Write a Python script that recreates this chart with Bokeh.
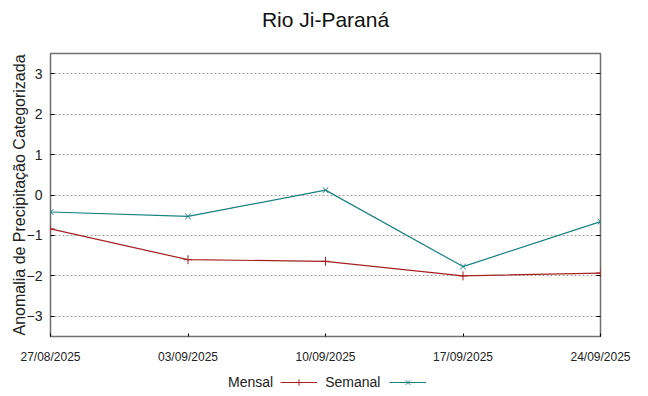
import pandas as pd
from bokeh.plotting import figure
from bokeh.layouts import column
from bokeh.models import (Legend, LegendItem, LinearAxis, FixedTicker,
                          DatetimeTickFormatter, Range1d, ColumnDataSource,
                          CustomJSTickFormatter)
from bokeh.embed import file_html
from bokeh.resources import INLINE

dates = ["27/08/2025", "03/09/2025", "10/09/2025", "17/09/2025", "24/09/2025"]
mensal = [-0.84, -1.60, -1.64, -2.00, -1.93]
semanal = [-0.42, -0.53, 0.12, -1.77, -0.66]
y_ticks = [-3, -2, -1, 0, 1, 2, 3]

FONT = "Liberation Sans"
RED = "#a52222"
TEAL = "#1a8080"

x = pd.to_datetime(dates, format="%d/%m/%Y")
x_ms = [int(t.timestamp() * 1000) for t in x]
src = ColumnDataSource(dict(x=x_ms, mensal=mensal, semanal=semanal))

p = figure(width=648, height=366, output_backend="svg",
           toolbar_location=None, x_axis_type="datetime",
           x_range=Range1d(x_ms[0], x_ms[-1]), y_range=Range1d(-3.5, 3.5),
           min_border_left=50, min_border_right=48, min_border_top=53,
           min_border_bottom=30)

p.title.text = "Rio Ji-Paraná\n"
p.title.align = "center"
p.title.text_font = FONT
p.title.text_font_size = "21px"
p.title.text_font_style = "normal"
p.title.text_color = "#111111"
p.title.text_line_height = 1.0
p.title.standoff = 0

p.outline_line_color = "#707070"
p.outline_line_width = 1.5
p.background_fill_color = "white"
p.border_fill_color = "white"

p.xgrid.visible = False
p.ygrid.ticker = FixedTicker(ticks=y_ticks)
p.ygrid.grid_line_color = "#a0a0a0"
p.ygrid.grid_line_dash = "2 2"
p.ygrid.grid_line_width = 1

fmt = "%d/%m/%Y"
xa = p.xaxis[0]
xa.ticker = FixedTicker(ticks=x_ms)
xa.formatter = DatetimeTickFormatter(
    microseconds=fmt, milliseconds=fmt, seconds=fmt, minsec=fmt, minutes=fmt,
    hourmin=fmt, hours=fmt, days=fmt, months=fmt, years=fmt, context=None)
xa.major_label_text_font = FONT
xa.major_label_text_font_size = "12px"
xa.major_label_text_color = "#222222"
xa.major_tick_in = 3
xa.major_tick_out = 0
xa.major_tick_line_color = "black"
xa.minor_tick_line_color = None
xa.axis_line_color = None
xa.major_label_standoff = 13

ya = p.yaxis[0]
ya.ticker = FixedTicker(ticks=y_ticks)
ya.major_label_text_font = FONT
ya.major_label_text_font_size = "14px"
ya.major_label_text_color = "#222222"
ya.major_tick_in = 4
ya.major_tick_out = 0
ya.major_tick_line_color = "black"
ya.minor_tick_line_color = None
ya.axis_line_color = None
ya.major_label_standoff = 8
ya.axis_label = "Anomalia de Precipitação Categorizada"
ya.axis_label_text_font = FONT
ya.axis_label_text_font_size = "16px"
ya.axis_label_text_font_style = "normal"
ya.axis_label_text_color = "#222222"
ya.axis_label_standoff = -4

ra = LinearAxis(ticker=FixedTicker(ticks=y_ticks),
                formatter=CustomJSTickFormatter(code="return ''"),
                major_tick_in=4, major_tick_out=0, minor_tick_line_color=None,
                axis_line_color=None, major_label_standoff=0,
                major_tick_line_color="black")
p.add_layout(ra, "right")

p.line("x", "mensal", source=src, line_color=RED, line_width=1.2)
p.scatter("x", "mensal", source=src, marker="cross", size=9,
          line_color=RED, line_width=1)
p.line("x", "semanal", source=src, line_color=TEAL, line_width=1.2)
p.scatter("x", "semanal", source=src, marker="x", size=8,
          line_color=TEAL, line_width=1)

# legend strip below the chart: names first, then the line samples
lg = figure(width=648, height=30, output_backend="svg", toolbar_location=None,
            x_range=Range1d(0, 1), y_range=Range1d(0, 1),
            min_border_left=0, min_border_right=0, min_border_top=0,
            min_border_bottom=0)
lg.axis.visible = False
lg.grid.visible = False
lg.outline_line_color = None
# legend keys reuse the series (they fall outside this strip's ranges)
k1 = lg.line("x", "mensal", source=src, line_color=RED, line_width=1.2)
k1m = lg.scatter("x", "mensal", source=src, marker="cross", size=9,
                 line_color=RED, line_width=1)
k2 = lg.line("x", "semanal", source=src, line_color=TEAL, line_width=1.2)
k2m = lg.scatter("x", "semanal", source=src, marker="x", size=8,
                 line_color=TEAL, line_width=1)
kh = lg.line("x", "mensal", source=src, line_alpha=0)

names = Legend(items=[LegendItem(label="Mensal", renderers=[kh]),
                      LegendItem(label="Semanal", renderers=[kh])],
               orientation="horizontal", location=(178, 6),
               border_line_color=None, background_fill_alpha=0,
               label_text_font=FONT, label_text_font_size="14px",
               label_text_color="#222222", label_height=16, glyph_height=16,
               glyph_width=0, label_standoff=0, spacing=52, padding=0, margin=0)
keys = Legend(items=[LegendItem(label=" ", renderers=[k1, k1m]),
                     LegendItem(label=" ", renderers=[k2, k2m])],
              orientation="horizontal", location=(230, 6),
              border_line_color=None, background_fill_alpha=0,
              label_text_font=FONT, label_text_font_size="14px",
              label_height=16, glyph_height=16,
              glyph_width=37, label_standoff=0, spacing=52, padding=0, margin=0)
lg.add_layout(names, "center")
lg.add_layout(keys, "center")

layout = column(p, lg, spacing=0)
open("out.html", "w").write(file_html(layout, INLINE))
